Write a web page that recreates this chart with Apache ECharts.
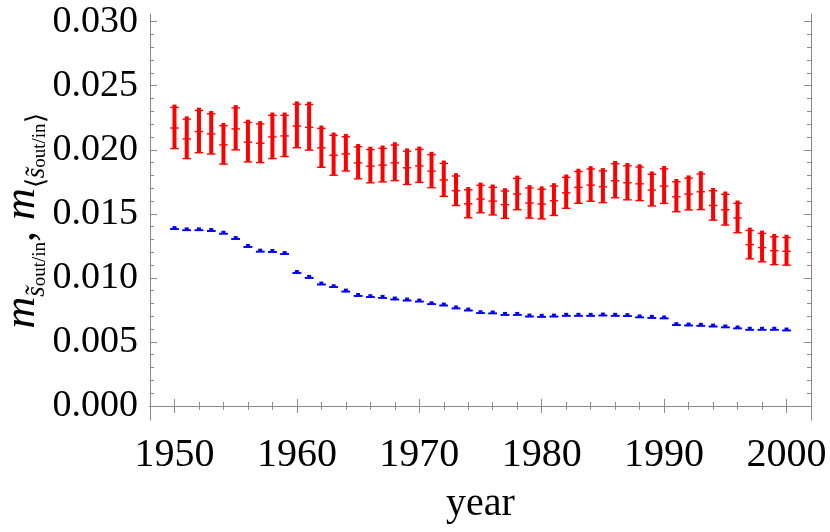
<!DOCTYPE html>
<html>
<head>
<meta charset="utf-8">
<script src="https://cdn.jsdelivr.net/npm/echarts@6/dist/echarts.min.js"></script>
<style>
html, body { margin: 0; padding: 0; background: #fff; }
#chart { width: 830px; height: 532px; }
</style>
</head>
<body>
<div id="chart"></div>
<script>
// values
var years = [1950, 1951, 1952, 1953, 1954, 1955, 1956, 1957, 1958, 1959,
    1960, 1961, 1962, 1963, 1964, 1965, 1966, 1967, 1968, 1969,
    1970, 1971, 1972, 1973, 1974, 1975, 1976, 1977, 1978, 1979,
    1980, 1981, 1982, 1983, 1984, 1985, 1986, 1987, 1988, 1989,
    1990, 1991, 1992, 1993, 1994, 1995, 1996, 1997, 1998, 1999, 2000];

var redMid = [0.02170, 0.02085, 0.02142, 0.02124, 0.02038, 0.02163, 0.02059, 0.02051, 0.02100, 0.02108,
    0.02186, 0.02175, 0.02015, 0.01957, 0.01968, 0.01898, 0.01872, 0.01880, 0.01898, 0.01859,
    0.01874, 0.01833, 0.01765, 0.01680, 0.01578, 0.01615, 0.01599, 0.01571, 0.01654, 0.01584,
    0.01576, 0.01602, 0.01664, 0.01706, 0.01724, 0.01711, 0.01758, 0.01742, 0.01734, 0.01685,
    0.01716, 0.01633, 0.01654, 0.01672, 0.01565, 0.01532, 0.01467, 0.01259, 0.01236, 0.01212, 0.01207];

var redErr = [0.00161, 0.00154, 0.00165, 0.00157, 0.00150, 0.00164, 0.00154, 0.00151, 0.00169, 0.00161,
    0.00170, 0.00178, 0.00152, 0.00156, 0.00134, 0.00125, 0.00130, 0.00131, 0.00139, 0.00130,
    0.00129, 0.00129, 0.00129, 0.00115, 0.00109, 0.00107, 0.00108, 0.00107, 0.00122, 0.00118,
    0.00116, 0.00115, 0.00121, 0.00124, 0.00126, 0.00124, 0.00133, 0.00133, 0.00131, 0.00124,
    0.00135, 0.00117, 0.00124, 0.00139, 0.00115, 0.00120, 0.00115, 0.00111, 0.00111, 0.00109, 0.00108];

var blueMid = [0.01381, 0.01371, 0.01371, 0.01366, 0.01345, 0.01303, 0.01241, 0.01205, 0.01202, 0.01186,
    0.01038, 0.01000, 0.00948, 0.00927, 0.00893, 0.00859, 0.00849, 0.00844, 0.00831, 0.00823,
    0.00815, 0.00794, 0.00784, 0.00761, 0.00745, 0.00724, 0.00722, 0.00711, 0.00711, 0.00698,
    0.00696, 0.00698, 0.00704, 0.00704, 0.00704, 0.00706, 0.00704, 0.00701, 0.00691, 0.00688,
    0.00683, 0.00631, 0.00628, 0.00626, 0.00620, 0.00613, 0.00605, 0.00595, 0.00595, 0.00595, 0.00589];

var blueErr = 0.00001;

var xMajor = [1950, 1960, 1970, 1980, 1990, 2000];
var xMinor = [1952, 1954, 1956, 1958, 1962, 1964, 1966, 1968, 1972, 1974, 1976, 1978,
    1982, 1984, 1986, 1988, 1992, 1994, 1996, 1998];
var yMajor = [0, 0.005, 0.010, 0.015, 0.020, 0.025, 0.030];
var yMinor = [0.001, 0.002, 0.003, 0.004, 0.006, 0.007, 0.008, 0.009, 0.011, 0.012, 0.013, 0.014,
    0.016, 0.017, 0.018, 0.019, 0.021, 0.022, 0.023, 0.024, 0.026, 0.027, 0.028, 0.029];

var frameColor = '#8a8a8a';
var font = 'Liberation Serif';

function frameAxis(pos, isX, ticks, len, showLabel) {
    var ax = {
        type: 'value',
        position: pos,
        min: isX ? 1948 : -0.0011,
        max: isX ? 2002 : 0.0306,
        splitLine: {show: false},
        axisLine: {show: len > 5, lineStyle: {color: frameColor, width: 1}},
        axisTick: {show: true, inside: true, length: len, customValues: ticks,
            lineStyle: {color: frameColor, width: 1}},
        axisLabel: {show: false, customValues: ticks}
    };
    if (showLabel) {
        ax.axisLabel = {
            show: true,
            customValues: ticks,
            color: '#000',
            fontFamily: font,
            fontSize: isX ? 40 : 38,
            margin: isX ? 15 : 12,
            formatter: function (v) {
                return isX ? String(v) : v.toFixed(3);
            }
        };
    }
    return ax;
}

function errBar(params, api) {
    var x = api.value(0), m = api.value(1), e = api.value(2);
    var lo = api.coord([x, m - e]);
    var hi = api.coord([x, m + e]);
    var mid = api.coord([x, m]);
    var color = api.visual('color');
    var bw = 4, cw = 8.5;
    var cx = mid[0];
    function cap(y) {
        return {type: 'line', shape: {x1: cx - cw / 2, y1: y, x2: cx + cw / 2, y2: y},
            style: {stroke: color, lineWidth: 1.4}};
    }
    return {
        type: 'group',
        children: [
            {type: 'rect', shape: {x: cx - bw / 2, y: hi[1] - 2.8, width: bw, height: lo[1] - hi[1] + 2.8},
                style: {fill: color}},
            cap(hi[1]), cap(mid[1]), cap(lo[1])
        ]
    };
}

var redData = [], blueData = [];
for (var i = 0; i < years.length; i++) {
    redData.push([years[i], redMid[i], redErr[i]]);
    blueData.push([years[i], blueMid[i], blueErr]);
}

var chart = echarts.init(document.getElementById('chart'), null, {renderer: 'canvas'});

var xMain = frameAxis('bottom', true, xMajor, 7, true);
xMain.name = 'year';
xMain.nameLocation = 'middle';
xMain.nameGap = 64;
xMain.nameMoveOverlap = false;
xMain.nameTextStyle = {fontFamily: font, fontSize: 40, color: '#000'};

var yMain = frameAxis('left', false, yMajor, 7, true);
yMain.name = '{m|m}{sub|s\u0303}{sup|out/in}{c|, }{m|m}{br|\u27e8}{sub|s\u0303}{sup|out/in}{br|\u27e9}';
yMain.nameLocation = 'middle';
yMain.nameRotate = 90;
yMain.nameGap = 100;
yMain.nameMoveOverlap = false;
yMain.nameTextStyle = {
    fontFamily: font,
    color: '#000',
    padding: [0, 8, 0, 0],
    rich: {
        m: {fontFamily: font, fontStyle: 'italic', fontSize: 44, lineHeight: 56, verticalAlign: 'middle'},
        c: {fontFamily: font, fontSize: 44, lineHeight: 56, verticalAlign: 'middle'},
        sub: {fontFamily: font, fontStyle: 'italic', fontSize: 27, lineHeight: 28, verticalAlign: 'bottom'},
        br: {fontFamily: font, fontSize: 26, lineHeight: 30, verticalAlign: 'bottom'},
        sup: {fontFamily: font, fontSize: 19, lineHeight: 50, verticalAlign: 'bottom'}
    }
};

var option = {
    backgroundColor: '#fff',
    animation: false,
    grid: {left: 150, top: 14, right: 19, bottom: 112, containLabel: false, outerBoundsMode: 'none'},
    xAxis: [
        xMain,
        frameAxis('top', true, xMajor, 7, false),
        frameAxis('bottom', true, xMinor, 4, false),
        frameAxis('top', true, xMinor, 4, false)
    ],
    yAxis: [
        yMain,
        frameAxis('right', false, yMajor, 7, false),
        frameAxis('left', false, yMinor, 4, false),
        frameAxis('right', false, yMinor, 4, false)
    ],
    series: [
        {type: 'custom', name: 'red', renderItem: errBar, data: redData,
            itemStyle: {color: '#ff0000'}, encode: {x: 0, y: 1}, xAxisIndex: 0, yAxisIndex: 0},
        {type: 'custom', name: 'blue', renderItem: errBar, data: blueData,
            itemStyle: {color: '#0000ff'}, encode: {x: 0, y: 1}, xAxisIndex: 0, yAxisIndex: 0}
    ]
};

chart.setOption(option);
</script>
</body>
</html>
